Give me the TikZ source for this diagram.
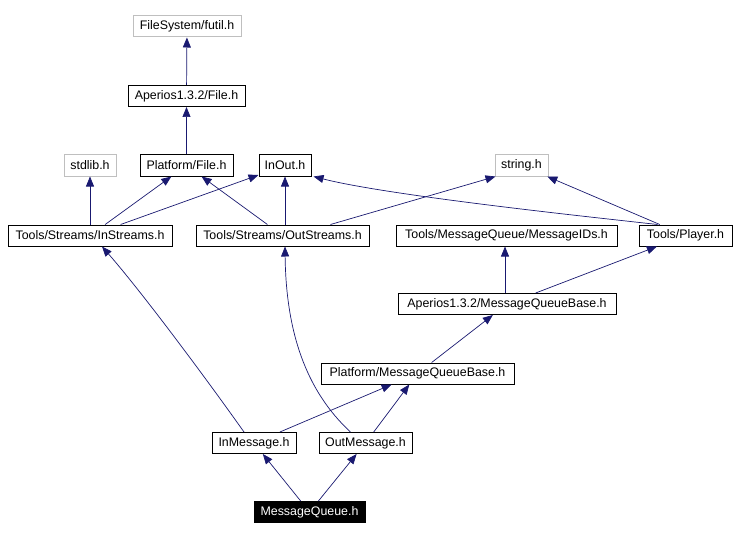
\documentclass[tikz,border=0pt]{standalone}
\usepackage{fontspec}
\setmainfont{Liberation Sans}
\usetikzlibrary{arrows.meta}
\definecolor{edgeblue}{RGB}{25,25,112}
\definecolor{boxgray}{RGB}{191,191,191}
\begin{document}
\begin{tikzpicture}[x=1pt,y=1pt,
  file/.style={draw=black,line width=1pt,fill=white,minimum height=21pt,inner sep=0pt,font=\fontsize{12.4}{14}\selectfont},
  sysfile/.style={file,draw=boxgray},
  dep/.style={draw=edgeblue,line width=0.7pt,-{Triangle[length=10pt,width=8pt]}}]
\useasboundingbox (0,0) rectangle (735,-540);

% obere Ebenen
\node[sysfile,minimum width=108pt] (futil) at (187,-26.5) {FileSystem/futil.h};
\node[file,minimum width=117pt] (apfile) at (186.5,-96) {Aperios1.3.2/File.h};
\node[sysfile,minimum width=52pt] (stdlib) at (90,-165.5) {stdlib.h};
\node[file,minimum width=93pt] (pffile) at (186.5,-165.5) {Platform/File.h};
\node[file,minimum width=52pt] (inout) at (285,-165.5) {InOut.h};
\node[sysfile,minimum width=53pt] (string) at (521.5,-165.5) {string.h};

% Streams, IDs, Player
\node[file,minimum width=164pt] (instreams) at (90,-235.5) {Tools/Streams/InStreams.h};
\node[file,minimum width=173pt] (outstreams) at (282.5,-235.5) {Tools/Streams/OutStreams.h};
\node[file,minimum width=221pt] (msgids) at (506.5,-235.5) {Tools/MessageQueue/MessageIDs.h};
\node[file,minimum width=93pt] (player) at (685.5,-235.5) {Tools/Player.h};

% MessageQueueBase
\node[file,minimum width=218pt] (apmqb) at (507,-304) {Aperios1.3.2/MessageQueueBase.h};
\node[file,minimum width=193pt] (pfmqb) at (417.5,-373.5) {Platform/MessageQueueBase.h};

% Messages
\node[file,minimum width=84pt] (inmsg) at (254,-443) {InMessage.h};
\node[file,minimum width=93pt] (outmsg) at (365.5,-443) {OutMessage.h};
\node[file,fill=black,text=white,minimum width=111pt] (mq) at (309.5,-512) {MessageQueue.h};

% Abhaengigkeiten
\draw[dep] (apfile) -- (futil);
\draw[dep] (pffile) -- (apfile);
\draw[dep] (instreams.north) -- (stdlib.south);
\draw[dep] (instreams) -- (pffile);
\draw[dep] (instreams) -- (inout);
\draw[dep] (outstreams) -- (pffile);
\draw[dep] (outstreams.north -| inout.south) -- (inout.south);
\draw[dep] ([xshift=48pt]outstreams.north) -- ([xshift=-26pt]string.south);
\draw[dep] (player) -- (string);
\draw[dep] ([xshift=-28pt]player.north) .. controls (600,-218) and (390,-196) .. ([xshift=2pt]inout.south east);
\draw[dep] (apmqb.north -| 505,0) -- (msgids.south -| 505,0);
\draw[dep] (apmqb) -- (player);
\draw[dep] (pfmqb) -- (apmqb);
\draw[dep] ([xshift=-10pt]inmsg.north) .. controls (200,-370) and (140,-290) .. ([xshift=12pt]instreams.south);
\draw[dep] (inmsg) -- (pfmqb);
\draw[dep] ([xshift=-15pt]outmsg.north) .. controls (305,-390) and (286,-330) .. ([xshift=2.5pt]outstreams.south);
\draw[dep] (outmsg) -- (pfmqb);
\draw[dep] (mq) -- (inmsg);
\draw[dep] (mq) -- (outmsg);
\end{tikzpicture}
\end{document}
